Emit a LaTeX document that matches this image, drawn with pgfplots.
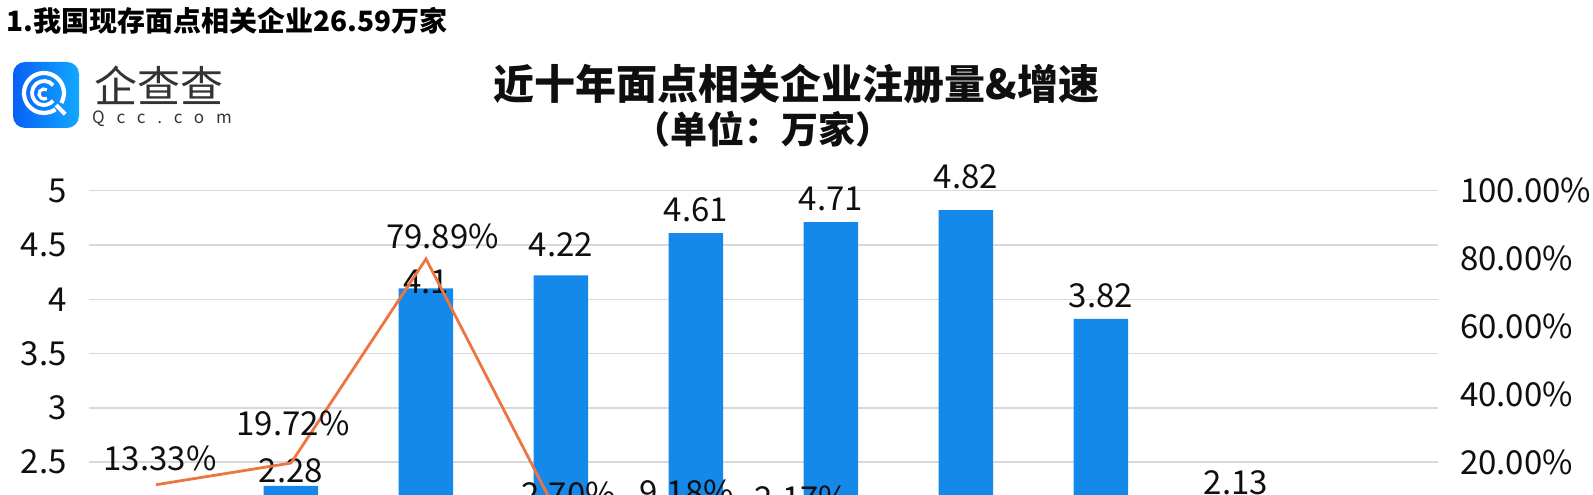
\documentclass[border=0pt]{standalone}
\usepackage{fontspec}
\setmainfont{Noto Sans CJK SC}
\usepackage{pgfplots}
\usepackage{pgfplotstable}
\pgfplotsset{compat=1.18}
\definecolor{barblue}{RGB}{21,137,234}
\definecolor{lineorange}{RGB}{236,117,64}
\definecolor{gridgray}{RGB}{217,217,217}
\definecolor{txt}{RGB}{15,15,15}
\definecolor{logoA}{RGB}{8,96,246}
\definecolor{logoB}{RGB}{18,168,255}
\definecolor{logotext}{RGB}{51,51,51}

% bars: value, label shift above bar top, label text (empty where out of view)
\pgfplotstableread{
x bar bdy lab
0 1.90 20 {}
1 2.28 15.5 2.28
2 4.10 6 4.1
3 4.22 31 4.22
4 4.61 23 4.61
5 4.71 23 4.71
6 4.82 34 4.82
7 3.82 23 3.82
8 2.13 20 2.13
9 1.10 20 {}
}\bars

% growth rate (%), label shifts, label text (empty where out of view)
\pgfplotstableread{
x rate lx ly lab
0 13.33 4 26 13.33\%
1 19.72 2 39.5 19.72\%
2 79.89 16.5 23 79.89\%
3 2.70 7.5 26 2.70\%
4 9.18 -9.5 6 9.18\%
5 2.17 -29 24 2.17\%
6 2.34 0 24 {}
7 -20.75 0 24 {}
8 -44.24 0 24 {}
9 -50.00 0 24 {}
}\rates

\pgfplotsset{/pgf/number format/assume math mode=true}
\newcommand\numfont{\fontsize{33}{33}\selectfont}

\begin{document}
\begin{tikzpicture}
\begin{axis}[
  at={(88.5pt,-238.5pt)}, anchor=south west,
  scale only axis, width=1350pt, height=542.8pt,
  xmin=-0.5, xmax=9.5, ymin=0, ymax=5,
  ytick={2.5,3,3.5,4,4.5,5},
  xtick=\empty,
  axis line style={draw=none},
  major tick length=0pt,
  ymajorgrids, grid style={gridgray, line width=1.5pt},
  yticklabel style={font=\numfont, text=txt, inner sep=0pt, xshift=-21.5pt},
  clip=false,
  ybar, bar width=54.5pt,
]
\addplot[fill=barblue, draw=none,
  point meta=explicit symbolic,
  nodes near coords,
  visualization depends on={\thisrow{bdy} \as \bdy},
  every node near coord/.append style={anchor=center, yshift=\bdy pt, font=\numfont, text=txt, inner sep=0pt}
] table[x=x, y=bar, meta=lab] {\bars};
\end{axis}
\begin{axis}[
  at={(88.5pt,-238.5pt)}, anchor=south west,
  scale only axis, width=1350pt, height=542.8pt,
  xmin=-0.5, xmax=9.5, ymin=-60, ymax=100,
  axis y line*=right, axis x line=none,
  ytick={20,40,60,80,100},
  yticklabel={\pgfmathprintnumber[fixed,fixed zerofill,precision=2]{\tick}\%},
  yticklabel style={font=\numfont, text=txt, anchor=west, inner sep=0pt, xshift=21.5pt},
  axis line style={draw=none},
  major tick length=0pt,
  clip=false,
]
\addplot[lineorange, line width=2.8pt, no marks,
  point meta=explicit symbolic,
  nodes near coords,
  visualization depends on={\thisrow{lx} \as \lx},
  visualization depends on={\thisrow{ly} \as \ly},
  every node near coord/.append style={anchor=center, xshift=\lx pt, yshift=\ly pt, font=\numfont, text=txt, inner sep=0pt}
] table[x=x, y=rate, meta=lab] {\rates};
\end{axis}

\begin{scope}[x=1pt, y=1pt]
\node[anchor=west, inner sep=0pt, font=\fontsize{28}{28}\selectfont\bfseries, text=black] at (6,474) {1.我国现存面点相关企业26.59万家};
\node[inner sep=0pt, font=\fontsize{41}{41}\selectfont\bfseries, text=txt] at (796.5,411) {近十年面点相关企业注册量\&增速};
\node[inner sep=0pt, font=\fontsize{37}{37}\selectfont\bfseries, text=txt] at (763,366) {（单位：万家）};
% logo
\shade[left color=logoA, right color=logoB, rounded corners=12pt] (13,367) rectangle (79,433);
\draw[white, line width=4.2pt] (44,402) ++(-30:20) arc[start angle=-30, end angle=305, radius=20];
\draw[white, line width=4.2pt] (44,402) ++(-45:17) -- ++(-45:13);
\draw[white, line width=3.8pt] (44,402) ++(40:12) arc[start angle=40, end angle=320, radius=12];
\draw[white, line width=3.2pt] (44,401) ++(55:5) arc[start angle=55, end angle=305, radius=5];
\node[inner sep=0pt, font=\fontsize{43}{43}\selectfont, text=logotext] at (159,410) {企查查};
\node[inner sep=0pt, font=\fontsize{17}{17}\selectfont\addfontfeature{LetterSpace=70}, text=logotext] at (162,376) {Qcc.com};
\end{scope}

\pgfresetboundingbox
\path[use as bounding box] (0pt,0pt) rectangle (1593pt,495pt);
\end{tikzpicture}
\end{document}
